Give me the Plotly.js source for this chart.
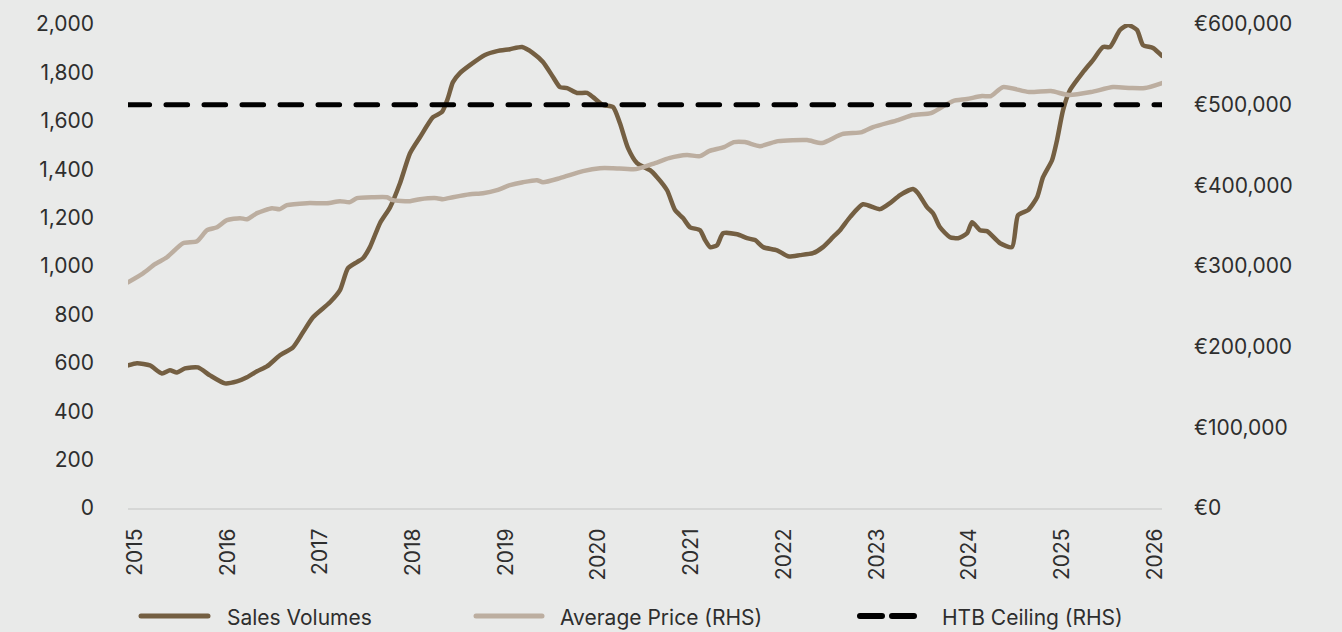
<!DOCTYPE html>
<html>
<head>
<meta charset="utf-8">
<script src="https://cdn.plot.ly/plotly-3.0.1.min.js"></script>
<style>
  html, body { margin: 0; padding: 0; background: #e9eae9; }
  #chart { width: 1342px; height: 632px; }
  .js-line { stroke-linecap: round !important; stroke-linejoin: round !important; }
  .shapelayer path { stroke-linecap: round !important; }
</style>
</head>
<body>
<div id="chart"></div>
<script>
// ---- Data ----
const salesYears = [2014.925,2015.022,2015.162,2015.291,2015.377,2015.453,2015.539,2015.679,2015.809,2015.970,
  2016.100,2016.208,2016.316,2016.423,2016.563,2016.704,2016.812,2016.920,2017.103,2017.211,2017.297,2017.394,
  2017.459,2017.534,2017.642,2017.750,2017.858,2017.966,2018.073,2018.214,2018.310,2018.375,2018.429,2018.504,
  2018.612,2018.774,2018.904,2019.044,2019.174,2019.292,2019.400,2019.508,2019.583,2019.659,2019.767,2019.875,
  2019.939,2020.047,2020.155,2020.230,2020.317,2020.414,2020.554,2020.630,2020.738,2020.824,2020.910,2020.986,
  2021.094,2021.148,2021.202,2021.277,2021.342,2021.493,2021.600,2021.687,2021.773,2021.924,2022.042,2022.171,
  2022.311,2022.419,2022.527,2022.603,2022.711,2022.851,2023.034,2023.142,2023.250,2023.390,2023.444,2023.541,
  2023.606,2023.681,2023.789,2023.876,2023.973,2024.027,2024.113,2024.188,2024.329,2024.458,2024.523,2024.631,
  2024.728,2024.792,2024.889,2024.943,2025.008,2025.083,2025.223,2025.331,2025.439,2025.514,2025.622,2025.709,
  2025.806,2025.870,2025.978,2026.075];
const salesVolumes = [589,598,589,556,569,560,577,581,548,515,
  523,540,565,585,631,664,726,788,850,900,991,1016,
  1032,1078,1177,1242,1342,1466,1532,1615,1636,1694,1760,1797,
  1830,1872,1888,1896,1905,1880,1843,1781,1739,1735,1715,1715,
  1698,1665,1657,1590,1487,1425,1396,1367,1313,1231,1198,1160,
  1148,1107,1078,1086,1135,1131,1115,1107,1078,1065,1040,1045,
  1053,1078,1119,1148,1202,1255,1235,1260,1293,1318,1301,1243,
  1218,1160,1119,1115,1135,1181,1148,1144,1094,1078,1210,1231,
  1284,1367,1437,1520,1644,1727,1801,1851,1905,1905,1975,1996,
  1975,1913,1901,1868];

const priceYears = [2014.925,2015.087,2015.216,2015.345,2015.518,2015.669,2015.777,2015.885,2015.992,2016.133,
  2016.208,2016.316,2016.477,2016.563,2016.639,2016.855,2017.071,2017.211,2017.318,2017.394,2017.566,2017.717,
  2017.782,2017.966,2018.073,2018.256,2018.321,2018.429,2018.612,2018.753,2018.904,2019.044,2019.184,2019.335,
  2019.400,2019.583,2019.831,2020.014,2020.155,2020.403,2020.608,2020.759,2020.953,2021.093,2021.190,2021.352,
  2021.460,2021.578,2021.740,2021.934,2022.247,2022.409,2022.625,2022.840,2022.959,2023.228,2023.390,2023.584,
  2023.703,2023.821,2023.972,2024.134,2024.231,2024.360,2024.641,2024.878,2025.072,2025.309,2025.546,2025.740,
  2025.891,2026.075];
const averagePrice = [279800,291000,302200,310900,328200,330700,344400,348100,356800,359300,
  358000,365500,371700,370500,375400,377900,377900,380400,379200,384100,385300,385300,
  381600,380400,382800,384100,382800,385300,389000,390300,394000,400200,403900,406400,
  403900,408900,417600,421300,421300,420100,427500,433700,437500,436200,442400,447400,
  453600,453600,448600,454800,456100,452400,463500,466000,472200,480900,487100,489600,
  497000,504500,507000,510700,510700,521800,515600,516800,511900,515600,521800,520600,
  520600,526800];

const htbCeiling = 500000;
const yearTicks = [2015,2016,2017,2018,2019,2020,2021,2022,2023,2024,2025,2026];
const leftTicks = [0,200,400,600,800,1000,1200,1400,1600,1800,2000];
const rightTicks = [0,100000,200000,300000,400000,500000,600000];
const seriesNames = ['Sales Volumes','Average Price (RHS)','HTB Ceiling (RHS)'];

// ---- Styles ----
const cSales = '#745f42';
const cPrice = '#bcaea0';
const cHtb = '#000000';
const bg = '#e9eae9';
const txt = '#2e2e2e';
const FONT = 'Inter, "Open Sans", sans-serif';

const xRange = [salesYears[0], salesYears[salesYears.length - 1]];

const traces = [
  { x: salesYears, y: salesVolumes, name: seriesNames[0], type: 'scatter', mode: 'lines',
    line: { color: cSales, width: 4.5, shape: 'spline', smoothing: 0.6 }, yaxis: 'y', showlegend: false, hoverinfo: 'skip' },
  { x: priceYears, y: averagePrice, name: seriesNames[1], type: 'scatter', mode: 'lines',
    line: { color: cPrice, width: 4.5, shape: 'spline', smoothing: 0.6 }, yaxis: 'y2', showlegend: false, hoverinfo: 'skip' },
  { x: xRange, y: [htbCeiling, htbCeiling], name: seriesNames[2], type: 'scatter', mode: 'lines',
    line: { color: cHtb, width: 5, dash: '21.6px,16.4px' }, yaxis: 'y2', showlegend: false, hoverinfo: 'skip' }
];

// ---- Manual legend (paper coordinates from pixels) ----
const W = 1342, H = 632, ML = 128, MR = 180, MT = 24, MB = 124;
const pw = W - ML - MR, ph = H - MT - MB;
const px = v => (v - ML) / pw;
const py = v => (H - MB - v) / ph;
const legY = 616;
const legendItems = [
  { x0: 141, x1: 208, tx: 225, color: cSales, dash: 'solid', w: 5 },
  { x0: 476, x1: 542, tx: 558, color: cPrice, dash: 'solid', w: 5 },
  { x0: 860, x1: 920, tx: 940, color: cHtb, dash: '22px,10px', w: 6 }
];
const shapes = legendItems.map(it => ({
  type: 'line', xref: 'paper', yref: 'paper',
  x0: px(it.x0), x1: px(it.x1), y0: py(legY), y1: py(legY),
  line: { color: it.color, width: it.w, dash: it.dash }
}));
const annotations = legendItems.map((it, i) => ({
  xref: 'paper', yref: 'paper', x: px(it.tx), y: py(legY + 1), xanchor: 'left', yanchor: 'middle',
  text: seriesNames[i], showarrow: false, font: { family: FONT, size: 21, color: txt }
}));

const layout = {
  width: W, height: H,
  margin: { l: ML, r: MR, t: MT, b: MB, pad: 0 },
  paper_bgcolor: bg, plot_bgcolor: bg,
  font: { family: FONT, size: 21, color: txt },
  showlegend: false,
  xaxis: {
    type: 'linear', range: xRange, tickmode: 'array', tickvals: yearTicks,
    ticktext: yearTicks.map(String), tickangle: -90, showgrid: false, zeroline: false,
    showline: true, linecolor: '#d6d7d6', linewidth: 2, ticks: '', ticklabelstandoff: 10,
    tickfont: { family: FONT, size: 21, color: txt }
  },
  yaxis: {
    range: [0, 2000], tickmode: 'array', tickvals: leftTicks,
    ticktext: leftTicks.map(v => v.toLocaleString('en-US')),
    showgrid: false, zeroline: false, showline: false, ticks: '', ticklabelstandoff: 33,
    tickfont: { family: FONT, size: 21, color: txt }
  },
  yaxis2: {
    overlaying: 'y', side: 'right', range: [0, 600000], tickmode: 'array', tickvals: rightTicks,
    ticktext: rightTicks.map(v => '€' + v.toLocaleString('en-US')),
    showgrid: false, zeroline: false, showline: false, ticks: '', ticklabelstandoff: 31,
    tickfont: { family: FONT, size: 21, color: txt }
  },
  shapes: shapes,
  annotations: annotations
};

Plotly.newPlot('chart', traces, layout, { staticPlot: true, displayModeBar: false });
</script>
</body>
</html>
